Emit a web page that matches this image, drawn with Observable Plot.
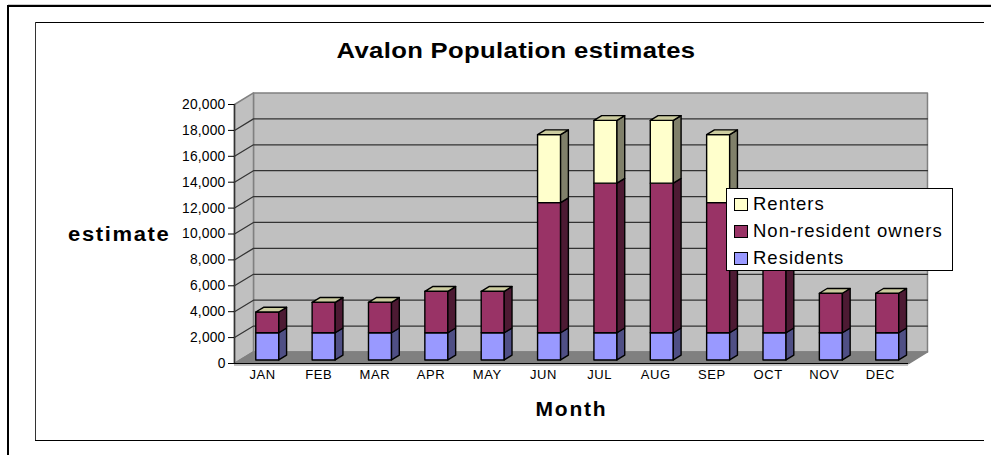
<!DOCTYPE html>
<html>
<head>
<meta charset="utf-8">
<script src="https://cdn.jsdelivr.net/npm/d3@7"></script>
<script src="https://cdn.jsdelivr.net/npm/@observablehq/plot@0.6"></script>
<style>
html,body{margin:0;padding:0;background:#fff;overflow:hidden}
body{width:991px;height:455px;position:relative;font-family:"Liberation Sans",Arial,sans-serif;color:#000}
#chart{position:absolute;left:0;top:0}
.rule{position:absolute;background:#000}
.t{position:absolute;white-space:nowrap;font-weight:bold}
#title{left:0;width:1032px;top:39px;text-align:center;font-size:22.5px;line-height:24px;letter-spacing:.3px;transform:scaleX(1.14)}
#ylab{left:68px;top:224px;font-size:20px;line-height:20px;letter-spacing:1.5px;transform:scaleX(1.1);transform-origin:left center}
#legend{position:absolute;left:726px;top:188px;width:225px;height:81px;background:#fff;border:1px solid #000}
#legend div{position:absolute;left:7px;display:flex;align-items:center;font-size:18.5px;line-height:20px;white-space:nowrap;letter-spacing:1px}
#legend i{display:block;width:12px;height:11px;border:1px solid #000;margin-right:5px;box-sizing:content-box}
g[aria-label="x-axis label"] text{letter-spacing:1.8px}
g[aria-label="x-axis tick label"] text{letter-spacing:.6px}
g[aria-label="y-axis tick label"] text{letter-spacing:.2px}
</style>
</head>
<body>
<div id="chart"></div>
<div class="rule" style="left:8px;top:4px;width:983px;height:1px;background:#ccc"></div>
<div class="rule" style="left:8px;top:5px;width:983px;height:2px"></div>
<div class="rule" style="left:7px;top:5px;width:2px;height:450px"></div>
<div class="rule" style="left:35px;top:22px;width:949px;height:1px"></div>
<div class="rule" style="left:35px;top:22px;width:1px;height:419px;background:#333"></div>
<div class="rule" style="left:35px;top:440px;width:949px;height:1px"></div>
<div class="t" id="title">Avalon Population estimates</div>
<div class="t" id="ylab">estimate</div>
<div id="legend"></div>
<script>
const months = ["JAN","FEB","MAR","APR","MAY","JUN","JUL","AUG","SEP","OCT","NOV","DEC"];
const residents = [2100,2100,2100,2100,2100,2100,2100,2100,2100,2100,2100,2100];
const owners    = [1600,2350,2350,3200,3200,10050,11550,11550,10050,6000,3050,3050];
const renters   = [0,0,0,0,0,5250,4850,4850,5250,0,0,0];
const seriesNames = ["Residents","Non-resident owners","Renters"];
const seriesValues = [residents, owners, renters];
const frontColors = ["#9999ff","#993366","#ffffcc"];
const sideColors  = ["#4f4f85","#4d1a33","#80806a"];
const topColors   = ["#ccccff","#cc99b3","#cccc9f"];
const yTicks = d3.range(0, 20001, 2000);

// oblique projection of (month, value, depth 0..1) into the x/y scales
const depthX = 0.338, depthY = 890;
const px = (m, d) => m + d * depthX;
const py = (v, d) => v + d * depthY;
const pt = (id, fill, m, v, d) => ({id, fill, x: px(m, d), y: py(v, d)});

const barW = 0.41, d0 = 0.31, d1 = 0.72, barShift = 0.274, barStep = 1.0034;
const faces = [];
months.forEach((mo, i) => {
  const a = i * barStep + barShift, b = a + barW;
  let base = 0;
  seriesValues.forEach((vals, s) => {
    const top = base + vals[i];
    if (vals[i] > 0) {
      faces.push(...[[a,base,d0],[b,base,d0],[b,top,d0],[a,top,d0]].map(p => pt(`${mo}${s}f`, frontColors[s], ...p)));
      faces.push(...[[b,base,d0],[b,base,d1],[b,top,d1],[b,top,d0]].map(p => pt(`${mo}${s}s`, sideColors[s], ...p)));
    }
    base = top;
  });
  faces.push(...[[a,base,d0],[b,base,d0],[b,base,d1],[a,base,d1]].map(p => pt(`${mo}t`, topColors[2], ...p)));
});

const wall = [[0,0,1],[12,0,1],[12,20000,1],[0,20000,1]].map(p => pt("wall","#c0c0c0",...p));
const side = [[0,0,0],[0,0,1],[0,20000,1],[0,20000,0]].map(p => pt("side","#c0c0c0",...p));
const floor = [[0,0,0],[12,0,0],[12,0,1],[0,0,1]].map(p => pt("floor","#808080",...p));
const gridLines = yTicks.slice(1,-1).flatMap(v => [pt(v,"",0,v,0), pt(v,"",0,v,1), pt(v,"",12,v,1)]);

const plot = Plot.plot({
  width: 991, height: 455,
  marginLeft: 234, marginRight: 83, marginTop: 104, marginBottom: 92,
  style: {fontFamily: '"Liberation Sans",Arial,sans-serif', color: "#000", background: "transparent"},
  x: {domain: [0, 12]},
  y: {domain: [0, 20000]},
  marks: [
    Plot.line([...wall, ...side, ...floor], {x:"x", y:"y", z:"id", fill:"fill", stroke:"#808080", strokeWidth:1.5, curve:"linear-closed"}),
    Plot.line(gridLines, {x:"x", y:"y", z:"id", stroke:"#333", strokeWidth:1.2}),
    Plot.line(faces, {x:"x", y:"y", z:"id", fill:"fill", stroke:"#000", strokeWidth:1.4, curve:"linear-closed"}),
    Plot.ruleX([0], {stroke:"#333", strokeWidth:1.5}),
    Plot.ruleY([0], {stroke:"#b0b0b0", strokeWidth:1.5, dy:1.5}),
    Plot.ruleY([0], {stroke:"#000", strokeWidth:1.2}),
    Plot.axisY({ticks: yTicks, tickFormat: d3.format(","), tickSize: 6, tickPadding: 3, fontSize: 13.8, label: null}),
    Plot.axisX({ticks: d3.range(12).map(i => i + 0.5), tickFormat: t => months[Math.floor(t)], tickSize: 0, tickPadding: 6, fontSize: 13, label: null}),
    Plot.axisX({ticks: [], tickSize: 0, label: "Month", labelAnchor: "center", labelArrow: "none", labelOffset: 52, fontSize: 21, fontWeight: "bold"})
  ]
});
document.getElementById("chart").appendChild(plot);

const legend = document.getElementById("legend");
[2,1,0].forEach((s, row) => {
  const d = document.createElement("div");
  d.style.top = (5 + row * 27) + "px";
  const sw = document.createElement("i");
  sw.style.background = frontColors[s];
  d.appendChild(sw);
  d.appendChild(document.createTextNode(seriesNames[s]));
  legend.appendChild(d);
});
</script>
</body>
</html>
